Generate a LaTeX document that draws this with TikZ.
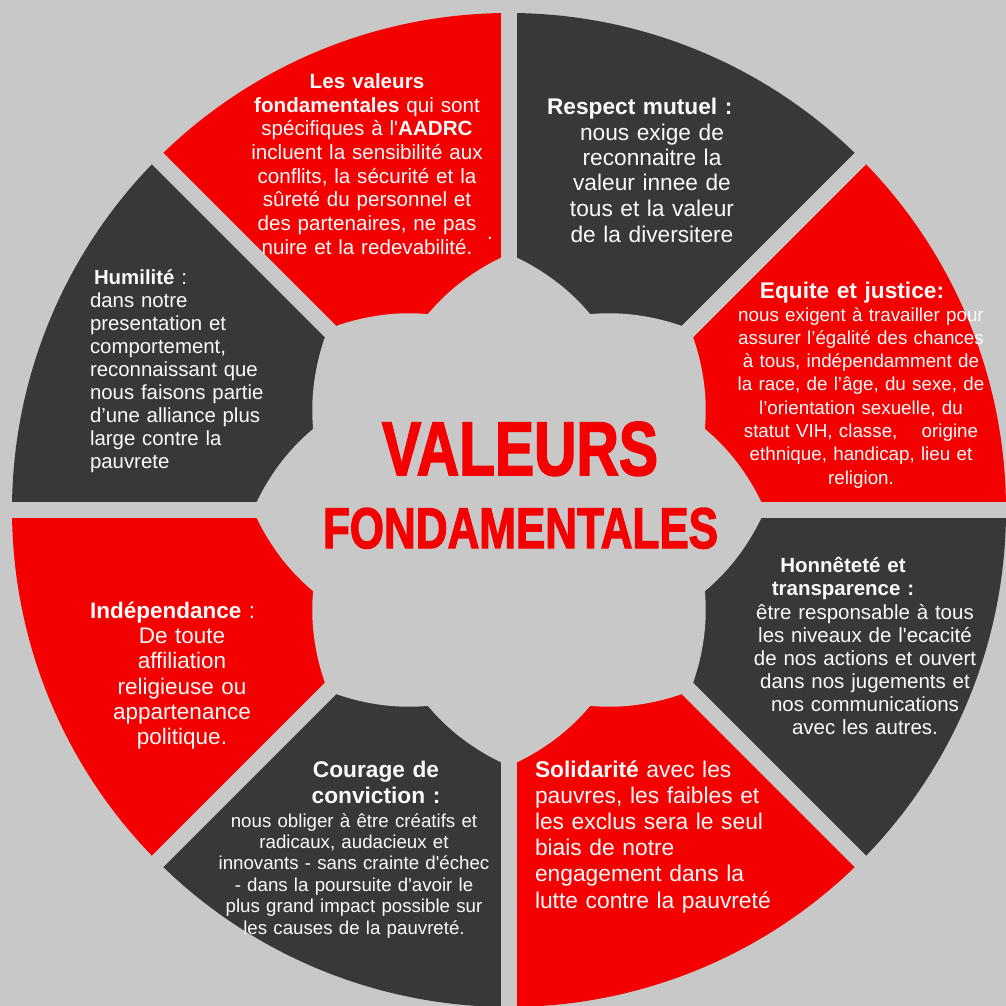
\documentclass[tikz,border=0pt]{standalone}
\usepackage{fontspec}
\setmainfont{Liberation Sans}
\newfontfamily\titlefont{Liberation Sans}[BoldFeatures={FakeBold=2.5}]
\usepackage{graphicx}
\definecolor{bgc}{RGB}{200,200,200}
\definecolor{segred}{RGB}{245,0,0}
\definecolor{segdark}{RGB}{56,56,56}
\definecolor{txtc}{RGB}{252,250,250}
\newcommand{\sq}{\textquotesingle}
\begin{document}
\begin{tikzpicture}[x=1pt,y=1pt,
  txt/.style={text=txtc, inner sep=0pt, outer sep=0pt},
  cblock/.style={txt, align=center, text width=330pt, anchor=base},
  lblock/.style={txt, align=left, text width=330pt, anchor=base west},
  gapline/.style={draw=bgc, line width=16pt},
  bigtitle/.style={inner sep=0pt, outer sep=0pt, text=segred, anchor=base}
]
\useasboundingbox (0,0) rectangle (1006,-1006);
\clip (0,0) rectangle (1006,-1006);
\fill[bgc] (0,0) rectangle (1006,-1006);
\coordinate (O) at (509,-510);
% sectors
\foreach \a/\c in {0/segred,45/segdark,90/segred,135/segdark,180/segred,225/segdark,270/segred,315/segdark}
  \fill[\c] (O) -- ++(\a:497) arc[start angle=\a, end angle=\a+45, radius=497] -- cycle;
% gaps
\foreach \a in {0,45,90,135}
  \draw[gapline] ([shift={(\a:540)}]O) -- ([shift={(\a+180:540)}]O);
% central cloud
\fill[bgc, shift={(509,-510)}] plot[domain=0:360, samples=721, variable=\t]
  (\t:{212+44*abs(mod(\t,45)-22.5)/22.5}) -- cycle;

% central title
\node[bigtitle] (t1) at (520,-475) {\resizebox{276pt}{53pt}{\titlefont\bfseries VALEURS}};
\node[bigtitle] (t2) at (520.5,-548) {\resizebox{395pt}{40pt}{\titlefont\bfseries FONDAMENTALES}};

% Les valeurs fondamentales (top)
\node[cblock, font={\fontsize{20.6}{23.7}\selectfont}] (valeurs) at (367,-88.5)
 {\textbf{Les valeurs}\\ \textbf{fondamentales} qui sont\\ spécifiques à l\sq\textbf{AADRC}\\ incluent la sensibilité aux\\ conflits, la sécurité et la\\ sûreté du personnel et\\ des partenaires, ne pas\\ nuire et la redevabilité.};
\node[txt, anchor=base, font={\fontsize{20.6}{23.7}\selectfont}] (dot) at (490,-239) {.};

% Respect mutuel
\node[lblock, font={\fontsize{22.7}{25.5}\selectfont}] (respT) at (547,-115) {\textbf{Respect mutuel :}};
\node[cblock, font={\fontsize{22.7}{25.5}\selectfont}] (respB) at (652,-140)
 {nous exige de\\ reconnaitre la\\ valeur innee de\\ tous et la valeur\\ de la diversitere};

% Equite et justice
\node[cblock, font={\fontsize{22.7}{25}\selectfont}] (eqT) at (852,-298.5) {\textbf{Equite et justice:}};
\node[cblock, font={\fontsize{18.8}{23.3}\selectfont}] (eqB) at (861,-321)
 {nous exigent à travailler pour\\ assurer l’égalité des chances\\ à tous, indépendamment de\\ la race, de l’âge, du sexe, de\\ l’orientation sexuelle, du\\ statut VIH, classe,\hspace{18pt} origine\\ ethnique, handicap, lieu et\\ religion.};

% Honnetete et transparence
\node[cblock, font={\fontsize{20.5}{23}\selectfont}] (honT) at (843,-572.5)
 {\textbf{Honnêteté et}\\ \textbf{transparence :}};
\node[cblock, font={\fontsize{20.5}{23.1}\selectfont}] (honB) at (865,-619)
 {être responsable à tous\\ les niveaux de l\sq ecacité\\ de nos actions et ouvert\\ dans nos jugements et\\ nos communications\\ avec les autres.};

% Solidarite
\node[lblock, font={\fontsize{22.8}{26.2}\selectfont}] (sol) at (535,-777)
 {\textbf{Solidarité} avec les\\ pauvres, les faibles et\\ les exclus sera le seul\\ biais de notre\\ engagement dans la\\ lutte contre la pauvreté};

% Courage de conviction
\node[cblock, font={\fontsize{22.7}{26}\selectfont}] (couT) at (376,-777)
 {\textbf{Courage de}\\ \textbf{conviction :}};
\node[cblock, font={\fontsize{18.7}{21.4}\selectfont}] (couB) at (354,-827)
 {nous obliger à être créatifs et\\ radicaux, audacieux et\\ innovants - sans crainte d\sq échec\\ - dans la poursuite d\sq avoir le\\ plus grand impact possible sur\\ les causes de la pauvreté.};

% Independance
\node[lblock, font={\fontsize{22.5}{25.3}\selectfont}] (indT) at (90,-618) {\textbf{Indépendance} :};
\node[cblock, font={\fontsize{22.5}{25.3}\selectfont}] (indB) at (182,-643.5)
 {De toute\\ affiliation\\ religieuse ou\\ appartenance\\ politique.};

% Humilite
\node[lblock, font={\fontsize{20.4}{23.1}\selectfont}] (hum) at (90,-284)
 {\hspace*{4pt}\textbf{Humilité} :\\ dans notre\\ presentation et\\ comportement,\\ reconnaissant que\\ nous faisons partie\\ d’une alliance plus\\ large contre la\\ pauvrete};
\end{tikzpicture}
\end{document}
